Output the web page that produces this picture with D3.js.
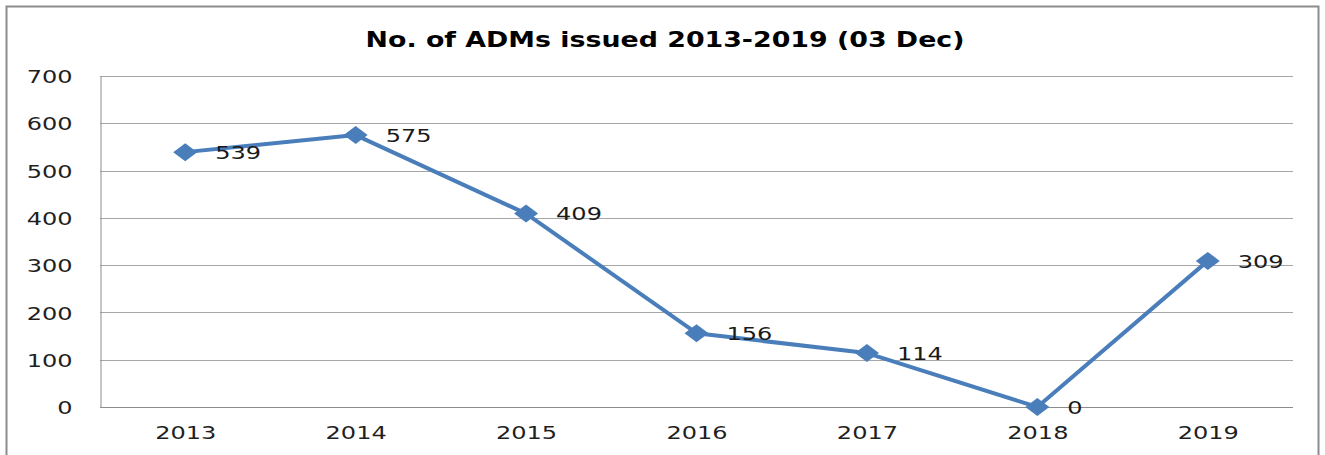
<!DOCTYPE html>
<html>
<head>
<meta charset="utf-8">
<script src="https://cdn.jsdelivr.net/npm/d3@7"></script>
<style>
  body { margin: 0; background: #fff; }
  svg { display: block; font-family: "DejaVu Sans", sans-serif; }
</style>
</head>
<body>
<div id="chart"></div>
<script>
// values
const years = ["2013", "2014", "2015", "2016", "2017", "2018", "2019"];
const admCounts = [539, 575, 409, 156, 114, 0, 309];
const yTicks = [0, 100, 200, 300, 400, 500, 600, 700];
const chartTitle = "No. of ADMs issued 2013-2019 (03 Dec)";

const width = 1325, height = 455;
const plot = { left: 100, right: 1293, top: 76, bottom: 407 };
const stretch = 1.3; // text in the original looks widened

const data = years.map((y, i) => ({ year: y, value: admCounts[i] }));

const svg = d3.select("#chart")
  .append("svg")
  .attr("width", width)
  .attr("height", height);

// outer chart frame
svg.append("rect")
  .attr("x", 6.5)
  .attr("y", 6.5)
  .attr("width", 1312)
  .attr("height", 470)
  .attr("fill", "none")
  .attr("stroke", "#8c8c8c")
  .attr("stroke-width", 2);

const x = d3.scalePoint()
  .domain(years)
  .range([plot.left, plot.right])
  .padding(0.5);

const y = d3.scaleLinear()
  .domain([0, 700])
  .range([plot.bottom, plot.top]);

// gridlines
svg.append("g")
  .selectAll("line")
  .data(yTicks)
  .enter()
  .append("line")
  .attr("x1", plot.left)
  .attr("x2", plot.right)
  .attr("y1", d => Math.round(y(d)) + 0.5)
  .attr("y2", d => Math.round(y(d)) + 0.5)
  .attr("stroke", "#a6a6a6")
  .attr("stroke-width", 1);

// y axis
const yAxis = svg.append("g")
  .attr("transform", `translate(${plot.left + 0.5},0)`)
  .call(d3.axisLeft(y).tickValues(yTicks).tickSize(0).tickFormat(d3.format("d")));
yAxis.select(".domain").attr("stroke", "#8c8c8c");
yAxis.selectAll(".tick text")
  .attr("x", -28 / stretch)
  .attr("dy", "0.36em")
  .attr("transform", `scale(${stretch},1)`)
  .attr("font-size", 18.5)
  .attr("font-family", "DejaVu Sans")
  .attr("fill", "#1f1f1f");

// x axis
const xAxis = svg.append("g")
  .attr("transform", `translate(0,${Math.round(plot.bottom) + 0.5})`)
  .call(d3.axisBottom(x).tickSize(0));
xAxis.select(".domain")
  .attr("stroke", "#8c8c8c")
  .attr("d", `M${plot.left},0H${plot.right}`);
xAxis.selectAll(".tick text")
  .attr("y", 32)
  .attr("dy", 0)
  .attr("transform", `scale(${stretch},1)`)
  .attr("font-size", 18.5)
  .attr("font-family", "DejaVu Sans")
  .attr("fill", "#1f1f1f");

// title
svg.append("text")
  .attr("text-anchor", "middle")
  .attr("transform", `translate(665,47) scale(1.22,1)`)
  .attr("font-size", 22)
  .attr("font-weight", 700)
  .attr("fill", "#000")
  .text(chartTitle);

// the line
const line = d3.line()
  .x(d => x(d.year))
  .y(d => y(d.value));

svg.append("path")
  .datum(data)
  .attr("d", line)
  .attr("fill", "none")
  .attr("stroke", "#4a7ebb")
  .attr("stroke-width", 4)
  .attr("stroke-linejoin", "round");

// diamond markers
svg.append("g")
  .selectAll("path")
  .data(data)
  .enter()
  .append("path")
  .attr("transform", d => `translate(${x(d.year)},${y(d.value)})`)
  .attr("d", "M0,-9L12,0L0,9L-12,0Z")
  .attr("fill", "#4a7ebb");

// value labels
svg.append("g")
  .selectAll("text")
  .data(data)
  .enter()
  .append("text")
  .attr("transform", d => `translate(${x(d.year) + 30},${y(d.value)}) scale(${stretch},1)`)
  .attr("dy", "0.36em")
  .attr("font-size", 18.5)
  .attr("fill", "#1a1a1a")
  .text(d => d.value);
</script>
</body>
</html>
